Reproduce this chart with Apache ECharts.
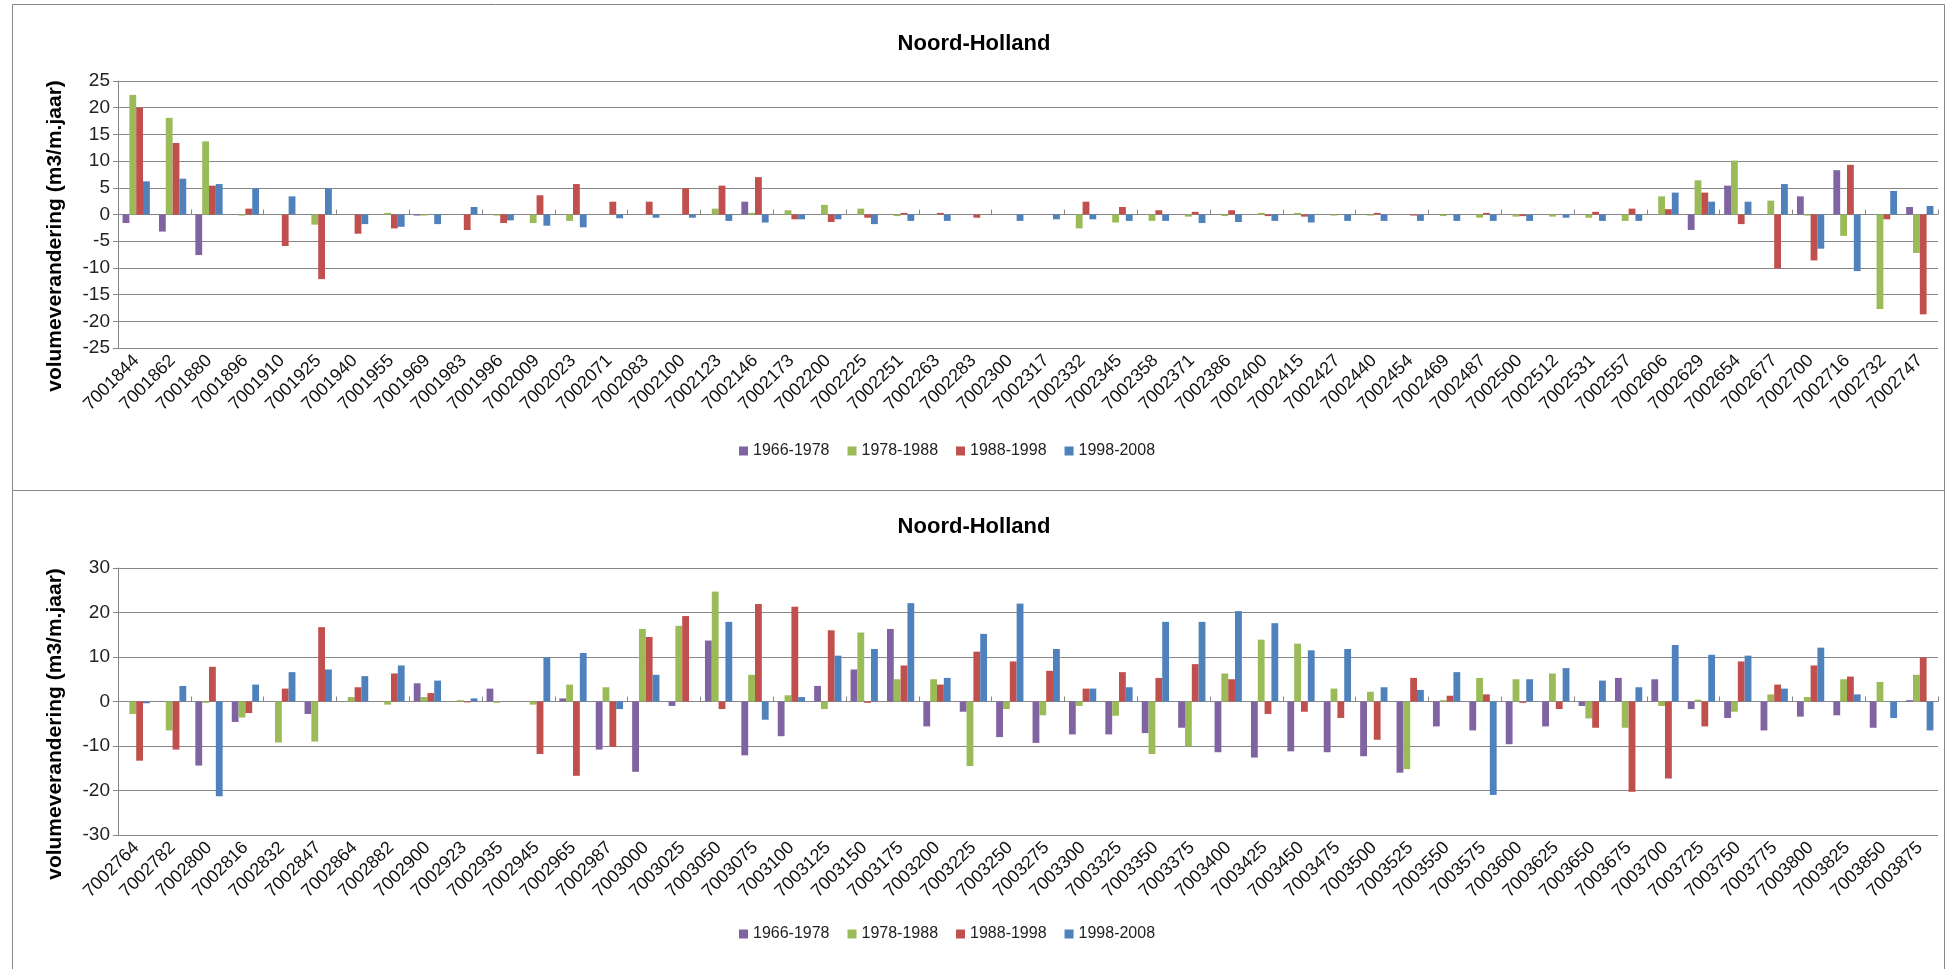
<!DOCTYPE html>
<html>
<head>
<meta charset="utf-8">
<script src="https://cdn.jsdelivr.net/npm/echarts@6/dist/echarts.min.js"></script>
<style>
html,body{margin:0;padding:0;background:#fff;}
#c{width:1948px;height:969px;}
</style>
</head>
<body>
<div id="c"></div>
<script>
var seriesNames = ['1966-1978', '1978-1988', '1988-1998', '1998-2008'];
var colors = ['#8064A2', '#9BBB59', '#C0504D', '#4F81BD'];
var chartTitle = 'Noord-Holland';
var yName = 'volumeverandering (m3/m.jaar)';

var categories1 = ['7001844','7001862','7001880','7001896','7001910','7001925','7001940','7001955','7001969','7001983','7001996','7002009','7002023','7002071','7002083','7002100','7002123','7002146','7002173','7002200','7002225','7002251','7002263','7002283','7002300','7002317','7002332','7002345','7002358','7002371','7002386','7002400','7002415','7002427','7002440','7002454','7002469','7002487','7002500','7002512','7002531','7002557','7002606','7002629','7002654','7002677','7002700','7002716','7002732','7002747'];
var top1966 = [-1.6,-3.2,-7.6,0,0,0,0,0,-0.2,0,0,0,0,0,0,0,0,2.4,0,0,0,0,0,0,0,0,0,0,0,0,0,0,0,0,0,0,0,0,0,0,0,0,0,-2.9,5.4,0,3.4,8.3,0,1.4];
var top1978 = [22.4,18.1,13.7,-0.2,0,-1.9,0,0.3,-0.2,0,-0.2,-1.6,-1.2,0,0,0,1.1,0.3,0.8,1.8,1.1,-0.3,0,0,0,0,-2.6,-1.5,-1.2,-0.4,-0.3,0.3,0.3,-0.2,-0.2,0,-0.3,-0.6,-0.4,-0.4,-0.6,-1.2,3.4,6.4,10.1,2.6,-0.2,-4.0,-17.7,-7.2];
var top1988 = [20.0,13.4,5.4,1.1,-5.9,-12.1,-3.6,-2.6,0,-2.9,-1.6,3.6,5.7,2.4,2.4,4.9,5.4,7.0,-0.9,-1.4,-0.6,0.3,0.3,-0.6,0,0,2.4,1.4,0.8,0.5,0.8,-0.3,-0.4,0,0.3,-0.2,0,0.3,-0.3,0,0.5,1.1,1.0,4.1,-1.8,-10.1,-8.6,9.3,-0.9,-18.7];
var top1998 = [6.2,6.7,5.7,4.9,3.4,4.9,-1.8,-2.3,-1.8,1.4,-1.1,-2.1,-2.4,-0.7,-0.6,-0.6,-1.2,-1.5,-0.9,-0.9,-1.8,-1.2,-1.2,0,-1.2,-0.9,-0.9,-1.2,-1.2,-1.6,-1.4,-1.2,-1.5,-1.2,-1.2,-1.2,-1.2,-1.2,-1.2,-0.6,-1.2,-1.2,4.1,2.4,2.4,5.7,-6.4,-10.6,4.4,1.6];

var categories2 = ['7002764','7002782','7002800','7002816','7002832','7002847','7002864','7002882','7002900','7002923','7002935','7002945','7002965','7002987','7003000','7003025','7003050','7003075','7003100','7003125','7003150','7003175','7003200','7003225','7003250','7003275','7003300','7003325','7003350','7003375','7003400','7003425','7003450','7003475','7003500','7003525','7003550','7003575','7003600','7003625','7003650','7003675','7003700','7003725','7003750','7003775','7003800','7003825','7003850','7003875'];
var bot1966 = [0,0,-14.4,-4.6,0,-2.8,0,0,4.1,0,2.9,0,0.7,-10.8,-15.8,-1.0,13.7,-12.1,-7.8,3.5,7.2,16.3,-5.6,-2.3,-8.0,-9.3,-7.4,-7.4,-7.1,-5.9,-11.4,-12.6,-11.2,-11.4,-12.3,-16.0,-5.6,-6.5,-9.6,-5.6,-1.0,5.3,5.0,-1.7,-3.7,-6.5,-3.4,-3.1,-5.9,0.3];
var bot1978 = [-2.8,-6.5,-0.3,-3.6,-9.2,-9.0,1.0,-0.7,1.0,0.3,-0.3,-0.7,3.8,3.2,16.3,17.0,24.7,6.0,1.4,-1.7,15.5,5.0,5.0,-14.5,-1.7,-3.1,-1.0,-3.2,-11.8,-10.1,6.3,13.9,13.0,2.9,2.2,-15.2,0.3,5.3,5.0,6.3,-3.8,-5.9,-1.0,0.4,-2.3,1.6,1.0,5.0,4.4,6.0];
var bot1988 = [-13.3,-10.8,7.8,-2.6,2.9,16.7,3.2,6.3,1.9,-0.2,0,-11.8,-16.7,-10.2,14.5,19.2,-1.7,21.9,21.3,16.0,-0.3,8.1,3.8,11.2,9.0,6.9,2.9,6.6,5.3,8.4,5.0,-2.8,-2.3,-3.7,-8.6,5.3,1.3,1.6,-0.3,-1.7,-5.9,-20.3,-17.3,-5.6,9.0,3.8,8.1,5.6,0,9.9];
var bot1998 = [-0.4,3.5,-21.3,3.8,6.6,7.2,5.7,8.1,4.7,0.7,0,9.9,10.9,-1.7,6.0,0,17.9,-4.1,1.0,10.3,11.8,22.1,5.3,15.2,22.0,11.8,2.9,3.2,17.9,17.9,20.3,17.6,11.5,11.8,3.2,2.6,6.6,-21.0,5.0,7.5,4.7,3.2,12.7,10.5,10.3,2.9,12.1,1.6,-3.7,-6.5];

var yTicks1 = {min: -25, max: 25, interval: 5};
var yTicks2 = {min: -30, max: 30, interval: 10};

var FONT = 'Liberation Sans, Arial, sans-serif';
var GRID_LEFT = 118, GRID_W = 1820, GRID_H = 267;
var gridTops = [81, 568];

var chart = echarts.init(document.getElementById('c'), null, {renderer: 'canvas'});

function makeXAxes(gi, cats) {
  return [
    {
      type: 'category', gridIndex: gi, data: cats, position: 'bottom',
      axisLine: {show: false, onZero: false}, axisTick: {show: false},
      axisLabel: {rotate: 45, fontFamily: FONT, fontSize: 18, color: '#111', margin: 10, interval: 0}
    },
    {
      type: 'category', gridIndex: gi, data: cats,
      axisLine: {show: true, onZero: true, lineStyle: {color: '#868686', width: 1}},
      axisTick: {show: true, inside: false, length: 5, lineStyle: {color: '#868686'}},
      axisLabel: {show: false}
    }
  ];
}
function makeYAxis(gi, t) {
  return {
    type: 'value', gridIndex: gi, min: t.min, max: t.max, interval: t.interval,
    axisLine: {show: true, lineStyle: {color: '#868686'}},
    axisTick: {show: true, length: 5, lineStyle: {color: '#868686'}},
    axisLabel: {fontFamily: FONT, fontSize: 19, color: '#222', margin: 8},
    splitLine: {show: true, lineStyle: {color: '#868686', width: 1}}
  };
}
var allSeries = [];
function addSeries(gi, arrs) {
  arrs.forEach(function (arr, k) {
    allSeries.push({
      name: seriesNames[k], type: 'bar', xAxisIndex: gi * 2, yAxisIndex: gi,
      data: arr, barGap: '0%', barCategoryGap: '25%',
      itemStyle: {color: colors[k]}, emphasis: {disabled: true}
    });
  });
}
addSeries(0, [top1966, top1978, top1988, top1998]);
addSeries(1, [bot1966, bot1978, bot1988, bot1998]);

var legendBase = {
  data: seriesNames, icon: 'rect', itemWidth: 9, itemHeight: 9, itemGap: 18,
  textStyle: {fontFamily: FONT, fontSize: 16, color: '#222'}, left: 734
};

function yTitle(cy) {
  return {
    type: 'text', x: 55, y: cy, rotation: Math.PI / 2, silent: true,
    style: {text: yName, font: 'bold 21px ' + FONT, fill: '#000', textAlign: 'center', textVerticalAlign: 'middle'}
  };
}

chart.setOption({
  animation: false,
  color: colors,
  title: [
    {text: chartTitle, left: 'center', top: 28, textStyle: {fontFamily: FONT, fontSize: 22, fontWeight: 'bold', color: '#000'}},
    {text: chartTitle, left: 'center', top: 511, textStyle: {fontFamily: FONT, fontSize: 22, fontWeight: 'bold', color: '#000'}}
  ],
  legend: [
    Object.assign({}, legendBase, {top: 438}),
    Object.assign({}, legendBase, {top: 921})
  ],
  grid: gridTops.map(function (t) { return {left: GRID_LEFT, top: t, width: GRID_W, height: GRID_H}; }),
  xAxis: makeXAxes(0, categories1).concat(makeXAxes(1, categories2)),
  yAxis: [makeYAxis(0, yTicks1), makeYAxis(1, yTicks2)],
  series: allSeries,
  graphic: [
    {type: 'rect', shape: {x: 12.5, y: 4.5, width: 1932, height: 486}, style: {fill: null, stroke: '#888', lineWidth: 1}, silent: true},
    {type: 'rect', shape: {x: 12.5, y: 490.5, width: 1932, height: 490}, style: {fill: null, stroke: '#888', lineWidth: 1}, silent: true},
    yTitle(236),
    yTitle(724)
  ]
});
</script>
</body>
</html>
